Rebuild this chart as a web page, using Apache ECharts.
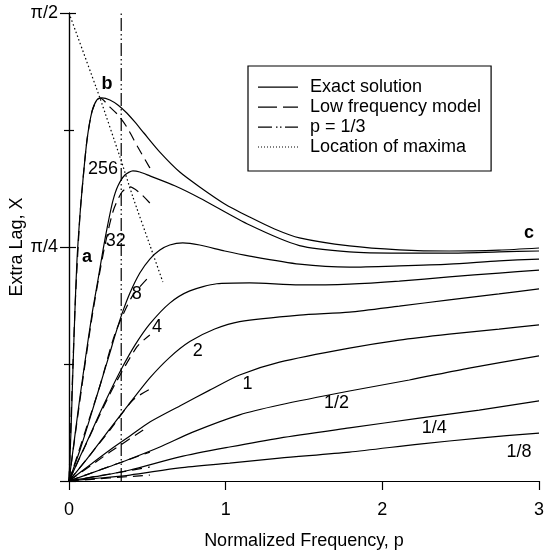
<!DOCTYPE html>
<html><head><meta charset="utf-8">
<script src="https://cdn.jsdelivr.net/npm/echarts@6/dist/echarts.min.js"></script>
<style>html,body{margin:0;padding:0;background:#fff}#c{width:545px;height:552px}</style>
</head><body><div id="c"></div><script>
// Exact solution curves [p, X]
const exact256 = [[0,0],[0.013,0.171],[0.025,0.373],[0.038,0.574],[0.051,0.742],[0.07,0.893],[0.089,1.01],[0.115,1.145],[0.146,1.239],[0.178,1.279],[0.21,1.286],[0.261,1.279],[0.312,1.262],[0.369,1.235],[0.42,1.205],[0.478,1.168],[0.58,1.104],[0.707,1.037],[0.834,0.987],[0.994,0.93],[1.153,0.886],[1.312,0.846],[1.471,0.816],[1.79,0.789],[2.108,0.776],[2.427,0.772],[2.745,0.775],[3,0.782]];
const exact32 = [[0,0],[0.038,0.154],[0.07,0.282],[0.108,0.423],[0.146,0.557],[0.185,0.675],[0.217,0.775],[0.248,0.862],[0.28,0.94],[0.312,0.99],[0.357,1.027],[0.408,1.041],[0.452,1.037],[0.516,1.024],[0.675,0.991],[0.834,0.95],[1.153,0.859],[1.471,0.79],[1.79,0.769],[2.108,0.765],[2.427,0.765],[2.745,0.769],[3,0.772]];
const exact8 = [[0,0],[0.07,0.104],[0.134,0.211],[0.197,0.319],[0.261,0.43],[0.293,0.487],[0.338,0.561],[0.389,0.631],[0.452,0.698],[0.516,0.745],[0.58,0.775],[0.643,0.792],[0.726,0.799],[0.834,0.792],[0.994,0.772],[1.153,0.755],[1.471,0.728],[1.79,0.718],[2.108,0.722],[2.427,0.728],[2.745,0.739],[3,0.745]];
const exact4 = [[0,0],[0.07,0.081],[0.134,0.154],[0.197,0.228],[0.261,0.299],[0.338,0.379],[0.42,0.455],[0.516,0.527],[0.643,0.597],[0.771,0.638],[0.943,0.662],[1.153,0.665],[1.471,0.658],[1.79,0.661],[2.108,0.671],[2.427,0.685],[2.745,0.698],[3,0.708]];
const exact2 = [[0,0],[0.134,0.087],[0.261,0.175],[0.389,0.262],[0.516,0.346],[0.643,0.415],[0.771,0.468],[0.93,0.51],[1.089,0.535],[1.471,0.557],[1.79,0.567],[2.108,0.587],[2.427,0.608],[2.745,0.628],[3,0.645]];
const exact1 = [[0,0],[0.134,0.054],[0.261,0.104],[0.389,0.151],[0.516,0.198],[0.707,0.252],[0.898,0.305],[1.089,0.356],[1.344,0.399],[1.79,0.446],[2.108,0.473],[2.427,0.493],[2.745,0.51],[3,0.524]];
const exactHalf = [[0,0],[0.197,0.037],[0.389,0.074],[0.58,0.114],[0.79,0.164],[1.089,0.222],[1.344,0.255],[1.79,0.302],[2.172,0.339],[2.554,0.379],[3,0.42]];
const exactQuarter = [[0,0],[0.197,0.017],[0.389,0.037],[0.707,0.081],[1.025,0.114],[1.344,0.144],[1.79,0.178],[2.236,0.211],[2.618,0.238],[3,0.269]];
const exactEighth = [[0,0],[0.197,0.01],[0.389,0.02],[0.707,0.044],[1.025,0.06],[1.344,0.077],[1.79,0.097],[2.236,0.124],[2.618,0.144],[3,0.161]];
// Low frequency model curves
const lf256 = [[0,0],[0.038,0.574],[0.07,0.893],[0.089,1.01],[0.115,1.145],[0.146,1.239],[0.178,1.279],[0.197,1.286],[0.261,1.255],[0.312,1.229],[0.369,1.188],[0.439,1.121],[0.516,1.051],[0.535,1.034]];
const lf32 = [[0,0],[0.07,0.272],[0.146,0.547],[0.217,0.759],[0.28,0.903],[0.338,0.97],[0.389,0.987],[0.452,0.967],[0.516,0.933]];
const lf8 = [[0,0],[0.197,0.319],[0.293,0.493],[0.401,0.618],[0.497,0.678]];
const lf4 = [[0,0],[0.261,0.292],[0.433,0.45],[0.516,0.49]];
const lf2 = [[0,0],[0.261,0.171],[0.408,0.272],[0.529,0.312]];
const lf1 = [[0,0],[0.261,0.097],[0.503,0.181]];
const lfHalf = [[0,0],[0.516,0.097]];
const lfQuarter = [[0,0],[0.516,0.047]];
const lfEighth = [[0,0],[0.516,0.02]];
// p = 1/3 line and location of maxima
const pThird = [[0.3333,0],[0.3333,1.5708]];
const maxima = [[0,1.5708],[0.197,1.286],[0.325,1.088],[0.408,0.953],[0.516,0.792],[0.599,0.668]];
// curve annotations [p, X, text, bold]
const labels = [[0.217,1.047,'256',0],[0.242,1.333,'b',1],[0.115,0.752,'a',1],[0.299,0.806,'32',0],[0.433,0.628,'8',0],[0.561,0.517,'4',0],[0.822,0.436,'2',0],[1.14,0.326,'1',0],[1.707,0.262,'1/2',0],[2.331,0.178,'1/4',0],[2.873,0.097,'1/8',0],[2.936,0.832,'c',1]];
const legendNames = ['Exact solution','Low frequency model','p = 1/3','Location of maxima'];

const FONT = 'Liberation Sans';
const B = 'M0,0M40,20';
const legendIcons = [
  'path://' + B + 'M0,9.4h40v1.3h-40z',
  'path://' + B + 'M0,9.4h19v1.3h-19zM25,9.4h15v1.3h-15z',
  'path://' + B + 'M0,9.4h14v1.3h-14zM18,9.4h1.5v1.3h-1.5zM22,9.4h1.5v1.3h-1.5zM27,9.4h13v1.3h-13z',
  'path://' + B + [0,3,6,9,12,15,18,21,24,27,30,33,36,39].map(x => 'M' + x + ',9.4h1v1.2h-1z').join('')
];
const exactList = [exact256, exact32, exact8, exact4, exact2, exact1, exactHalf, exactQuarter, exactEighth];
const lfList = [lf256, lf32, lf8, lf4, lf2, lf1, lfHalf, lfQuarter, lfEighth];
const series = [];
exactList.forEach(d => series.push({name: legendNames[0], type: 'line', data: d, symbol: 'none', smooth: 0.25,
  lineStyle: {color: '#000', width: 1.2}, itemStyle: {color: '#000'}}));
lfList.forEach(d => series.push({name: legendNames[1], type: 'line', data: d, symbol: 'none', smooth: 0.25,
  lineStyle: {color: '#000', width: 1.2, type: [10, 6]}, itemStyle: {color: '#000'}}));
series.push({name: legendNames[2], type: 'line', data: pThird, symbol: 'none',
  lineStyle: {color: '#000', width: 1.2, type: [13, 3, 1.5, 3, 1.5, 3]}, itemStyle: {color: '#000'}});
series.push({name: legendNames[3], type: 'line', data: maxima, symbol: 'none', smooth: 0.2,
  lineStyle: {color: '#000', width: 1.2, type: [1.5, 2.5]}, itemStyle: {color: '#000'}});
series.push({name: 'labels', type: 'scatter', symbolSize: 0, silent: true,
  itemStyle: {color: '#000', opacity: 1},
  data: labels.map(l => ({value: [l[0], l[1]], label: {formatter: l[2], fontWeight: l[3] ? 'bold' : 'normal'}})),
  label: {show: true, position: 'inside', color: '#000', opacity: 1, fontSize: 18, fontFamily: FONT}});

const chart = echarts.init(document.getElementById('c'), null, {renderer: 'canvas'});
chart.setOption({
  animation: false,
  backgroundColor: '#fff',
  textStyle: {fontFamily: FONT},
  grid: {left: 69, right: 6, top: 13, bottom: 71, containLabel: false, outerBoundsMode: 'none'},
  legend: {
    data: legendNames.map((n, i) => ({name: n, icon: legendIcons[i], itemStyle: {color: '#000'}})),
    orient: 'vertical', left: 248, top: 66,
    padding: [11, 10, 14, 10], itemGap: 0, itemWidth: 40, itemHeight: 20,
    borderColor: '#000', borderWidth: 1.2, backgroundColor: '#fff',
    textStyle: {fontSize: 18, color: '#000', fontFamily: FONT, lineHeight: 20, padding: [0, 0, 0, 7]},
    selectedMode: false
  },
  xAxis: [{
    type: 'value', min: 0, max: 3, interval: 1,
    name: 'Normalized Frequency, p', nameLocation: 'middle', nameGap: 51, nameMoveOverlap: false,
    nameTextStyle: {fontSize: 18, color: '#000', fontFamily: FONT},
    axisLine: {lineStyle: {color: '#000', width: 1.2}},
    axisTick: {show: true, length: 9, lineStyle: {color: '#000', width: 1.2}},
    axisLabel: {fontSize: 18, color: '#000', margin: 20, fontFamily: FONT},
    splitLine: {show: false}
  }, {
    type: 'value', min: 0, max: 3, interval: 1, position: 'top',
    axisLine: {show: true, lineStyle: {color: '#000', width: 1.2}},
    axisTick: {show: false}, axisLabel: {show: false}, splitLine: {show: false}
  }],
  yAxis: [{
    type: 'value', min: 0, max: Math.PI / 2, interval: Math.PI / 4,
    name: 'Extra Lag, X', nameLocation: 'middle', nameGap: 43, nameMoveOverlap: false,
    nameTextStyle: {fontSize: 18, color: '#000', fontFamily: FONT},
    axisLine: {show: true, lineStyle: {color: '#000', width: 1.2}},
    axisTick: {show: true, length: 9, lineStyle: {color: '#000', width: 1.2}},
    minorTick: {show: true, splitNumber: 2, length: 5, lineStyle: {color: '#000', width: 1.2}},
    axisLabel: {fontSize: 18, color: '#000', margin: 11, fontFamily: FONT,
      formatter: v => Math.abs(v - Math.PI / 4) < 1e-6 ? 'π/4' : (Math.abs(v - Math.PI / 2) < 1e-6 ? 'π/2' : '')},
    splitLine: {show: false}, minorSplitLine: {show: false}
  }, {
    type: 'value', min: 0, max: Math.PI / 2, interval: Math.PI / 4, position: 'right',
    axisLine: {show: true, lineStyle: {color: '#000', width: 1.2}},
    axisTick: {show: true, length: 7, lineStyle: {color: '#000', width: 1.2}},
    minorTick: {show: true, splitNumber: 2, length: 5, lineStyle: {color: '#000', width: 1.2}},
    axisLabel: {show: false}, splitLine: {show: false}, minorSplitLine: {show: false}
  }],
  series: series
});
</script></body></html>
